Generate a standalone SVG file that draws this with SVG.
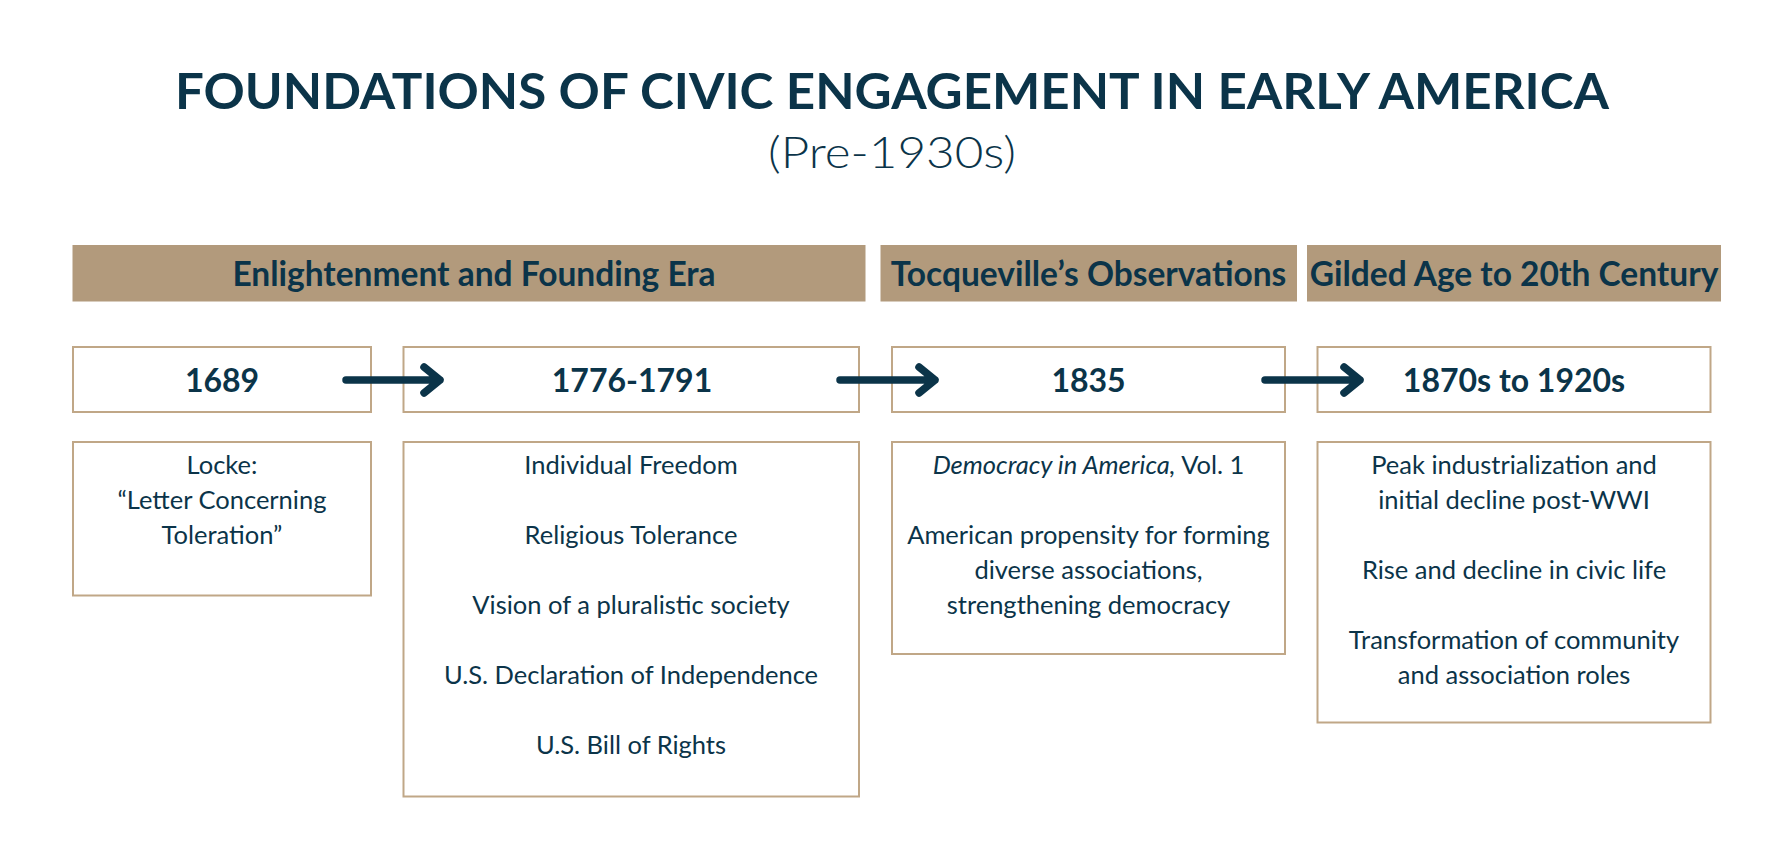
<svg xmlns="http://www.w3.org/2000/svg" width="1784" height="845" viewBox="0 0 1784 845">
<style>
  .title{font-family:Lato,"Liberation Sans",sans-serif;font-weight:700;font-size:49px;fill:#0b3449}
  .sub{font-family:Lato,"Liberation Sans",sans-serif;font-weight:300;font-size:44px;fill:#0b3449}
  .banner{fill:#b29a7c}
  .btxt{font-family:Lato,"Liberation Sans",sans-serif;font-weight:700;font-size:33.5px;fill:#0b3449;text-anchor:middle}
  .box{fill:#ffffff;stroke:#c0a787;stroke-width:2}
  .dtxt{font-family:Lato,"Liberation Sans",sans-serif;font-weight:700;font-size:32px;fill:#0b3449;text-anchor:middle}
  .ctxt{font-family:Lato,"Liberation Sans",sans-serif;font-weight:400;font-size:25.5px;fill:#0b3449;text-anchor:middle}
  .arrow{fill:none;stroke:#0b3449;stroke-width:7.5;stroke-linecap:round;stroke-linejoin:round}
</style>
<rect width="1784" height="845" fill="#ffffff"/>
<g id="title">
  <text class="title" x="892" y="109" text-anchor="middle" textLength="1434" lengthAdjust="spacingAndGlyphs">FOUNDATIONS OF CIVIC ENGAGEMENT IN EARLY AMERICA</text>
  <text class="sub" x="892" y="168" text-anchor="middle" textLength="248" lengthAdjust="spacingAndGlyphs">(Pre-1930s)</text>
</g>
<g id="banner-enlightenment">
  <rect class="banner" x="72.5" y="245" width="793" height="56.5"/>
  <text class="btxt" x="474" y="286">Enlightenment and Founding Era</text>
</g>
<g id="banner-tocqueville">
  <rect class="banner" x="880.5" y="245" width="416.5" height="56.5"/>
  <text class="btxt" x="1088.5" y="286">Tocqueville’s Observations</text>
</g>
<g id="banner-gilded">
  <rect class="banner" x="1307" y="245" width="414" height="56.5"/>
  <text class="btxt" x="1514" y="286">Gilded Age to 20th Century</text>
</g>
<g id="date-1689">
  <rect class="box" x="73" y="347" width="298" height="65"/>
  <text class="dtxt" x="222" y="392">1689</text>
</g>
<g id="date-1776">
  <rect class="box" x="403.5" y="347" width="455.5" height="65"/>
  <text class="dtxt" x="632" y="392">1776-1791</text>
</g>
<g id="date-1835">
  <rect class="box" x="892" y="347" width="393" height="65"/>
  <text class="dtxt" x="1088.5" y="392">1835</text>
</g>
<g id="date-1870">
  <rect class="box" x="1317.5" y="347" width="393" height="65"/>
  <text class="dtxt" x="1514" y="392">1870s to 1920s</text>
</g>
<g id="connectors">
  <path class="arrow" d="M346 380 H440 M424 367 L440 380 L424 393"/>
  <path class="arrow" d="M840 380 H935 M919 367 L935 380 L919 393"/>
  <path class="arrow" d="M1265 380 H1360 M1344 367 L1360 380 L1344 393"/>
</g>
<g id="content-1689">
  <rect class="box" x="73" y="442" width="298" height="153.5"/>
  <text class="ctxt" x="222" y="474">Locke:</text>
  <text class="ctxt" x="222" y="509">“Letter Concerning</text>
  <text class="ctxt" x="222" y="544">Toleration”</text>
</g>
<g id="content-1776">
  <rect class="box" x="403.5" y="442" width="455.5" height="354.5"/>
  <text class="ctxt" x="631" y="474">Individual Freedom</text>
  <text class="ctxt" x="631" y="544">Religious Tolerance</text>
  <text class="ctxt" x="631" y="614">Vision of a pluralistic society</text>
  <text class="ctxt" x="631" y="684">U.S. Declaration of Independence</text>
  <text class="ctxt" x="631" y="754">U.S. Bill of Rights</text>
</g>
<g id="content-1835">
  <rect class="box" x="892" y="442" width="393" height="212"/>
  <text class="ctxt" x="1088.5" y="474"><tspan font-style="italic">Democracy in America,</tspan> Vol. 1</text>
  <text class="ctxt" x="1088.5" y="544">American propensity for forming</text>
  <text class="ctxt" x="1088.5" y="579">diverse associations,</text>
  <text class="ctxt" x="1088.5" y="614">strengthening democracy</text>
</g>
<g id="content-1870">
  <rect class="box" x="1317.5" y="442" width="393" height="280.5"/>
  <text class="ctxt" x="1514" y="474">Peak industrialization and</text>
  <text class="ctxt" x="1514" y="509">initial decline post-WWI</text>
  <text class="ctxt" x="1514" y="579">Rise and decline in civic life</text>
  <text class="ctxt" x="1514" y="649">Transformation of community</text>
  <text class="ctxt" x="1514" y="684">and association roles</text>
</g>
</svg>
